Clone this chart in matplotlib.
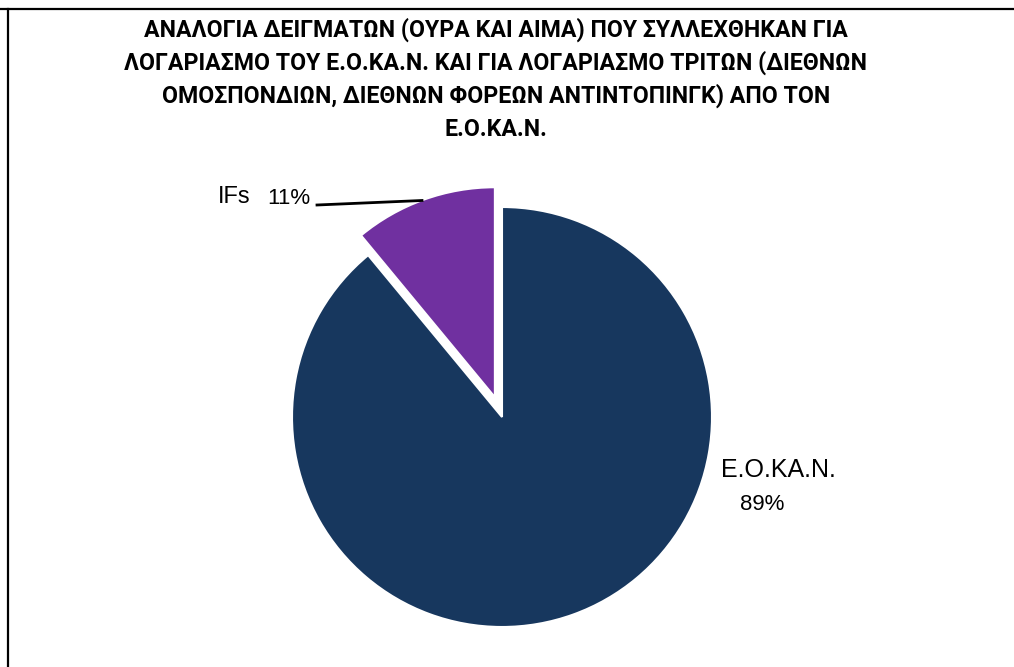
import matplotlib.pyplot as plt
from matplotlib.lines import Line2D

# data
labels = ["E.O.KA.N.", "IFs"]
values = [89, 11]
colors = ["#17375E", "#7030A0"]
title_lines = [
    "ΑΝΑΛΟΓΙΑ ΔΕΙΓΜΑΤΩΝ (ΟΥΡΑ ΚΑΙ ΑΙΜΑ) ΠΟΥ ΣΥΛΛΕΧΘΗΚΑΝ ΓΙΑ",
    "ΛΟΓΑΡΙΑΣΜΟ ΤΟΥ Ε.Ο.ΚΑ.Ν. ΚΑΙ ΓΙΑ ΛΟΓΑΡΙΑΣΜΟ ΤΡΙΤΩΝ (ΔΙΕΘΝΩΝ",
    "ΟΜΟΣΠΟΝΔΙΩΝ, ΔΙΕΘΝΩΝ ΦΟΡΕΩΝ ΑΝΤΙΝΤΟΠΙΝΓΚ) ΑΠΟ ΤΟΝ",
    "Ε.Ο.ΚΑ.Ν.",
]

W, H = 1014, 667
fig = plt.figure(figsize=(W / 100, H / 100), dpi=100)

def fx(x):
    return x / W

def fy(y):
    return 1 - y / H

# frame lines (table border)
fig.add_artist(Line2D([fx(0), fx(W)], [fy(8.5), fy(8.5)], color="black", lw=1.6))
fig.add_artist(Line2D([fx(8), fx(8)], [fy(8.5), fy(H)], color="black", lw=1.6))

# title
title_font = ["Roboto", "DejaVu Sans"]
for i, line in enumerate(title_lines):
    fig.text(fx(496), fy(30 + i * 33), line, ha="center", va="center",
             fontsize=16.7, fontweight="bold", family=title_font)

# pie: centre (502, 417), radius 210 px
cx, cy, r = 502, 417, 210
lim = 1.25
box = 2 * r * lim
ax = fig.add_axes([fx(cx - box / 2), fy(cy + box / 2), box / W, box / H])
wedges, _ = ax.pie(values, colors=colors, startangle=90, counterclock=False,
                   explode=[0, 0.1], radius=1,
                   wedgeprops=dict(edgecolor="white", linewidth=1.5))
ax.set_xlim(-lim, lim)
ax.set_ylim(-lim, lim)
ax.set_aspect("equal")
ax.axis("off")

lab_font = ["Liberation Sans", "DejaVu Sans"]
# IFs label with leader line
fig.text(fx(218), fy(197), labels[1], ha="left", va="center", fontsize=17, family=lab_font)
fig.text(fx(267), fy(198), f"{values[1]}%", ha="left", va="center", fontsize=16, family=lab_font)
fig.add_artist(Line2D([fx(317), fx(422)], [fy(205), fy(200.5)], color="black", lw=2))

# E.O.KA.N. label
fig.text(fx(721), fy(470), labels[0], ha="left", va="center", fontsize=18, family=lab_font)
fig.text(fx(740), fy(504), f"{values[0]}%", ha="left", va="center", fontsize=16, family=lab_font)

fig.savefig("out.png", dpi=100, facecolor="white")
